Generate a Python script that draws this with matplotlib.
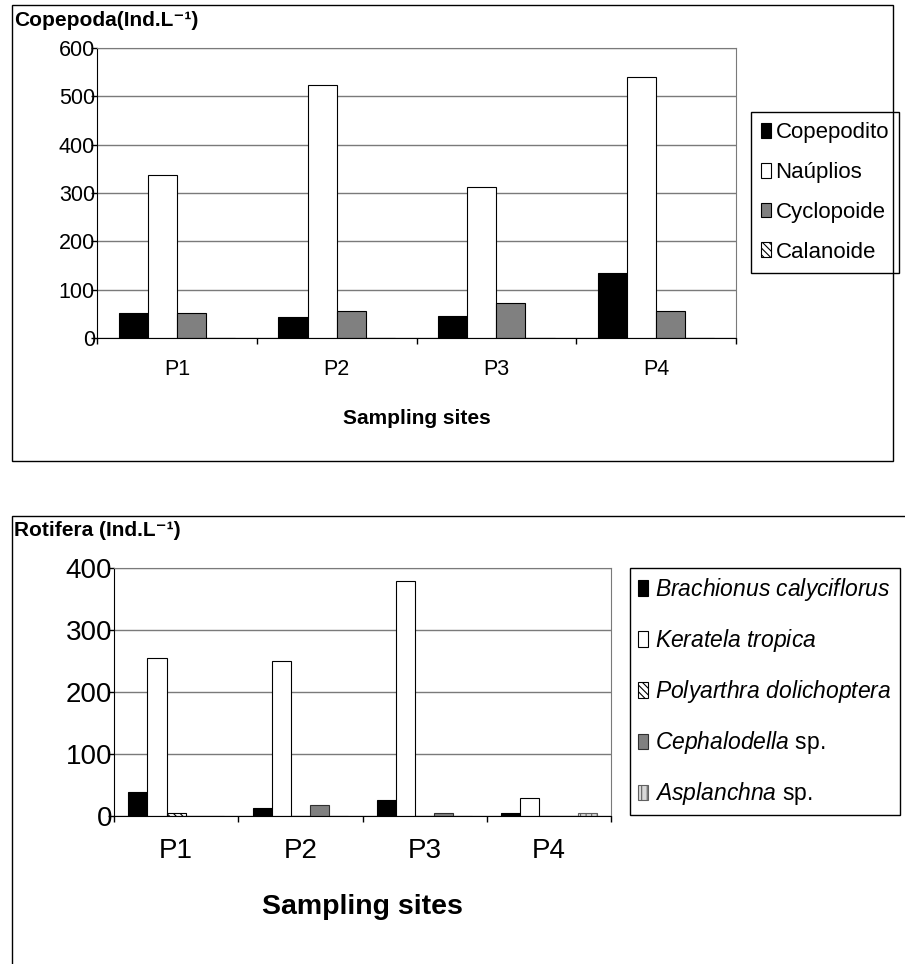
import matplotlib
matplotlib.use("Agg")
import matplotlib.pyplot as plt
from matplotlib.patches import Rectangle
import numpy as np

plt.rcParams['font.family'] = ['Liberation Sans', 'DejaVu Sans']
plt.rcParams['mathtext.fontset'] = 'custom'
plt.rcParams['mathtext.rm'] = 'Liberation Sans'
plt.rcParams['mathtext.it'] = 'Liberation Sans:italic'
plt.rcParams['hatch.linewidth'] = 0.8

sites = ['P1', 'P2', 'P3', 'P4']

# Copepoda (Ind.L-1)
copepodito = [52, 43, 47, 134]
nauplios = [337, 523, 312, 539]
cyclopoide = [52, 56, 73, 56]
calanoide = [0, 0, 0, 0]

# Rotifera (Ind.L-1)
brachionus = [38, 13, 25, 5]
keratela = [254, 250, 378, 29]
polyarthra = [5, 0, 0, 0]
cephalodella = [0, 17, 4, 0]
asplanchna = [0, 0, 0, 5]

W, H = 905, 964
fig = plt.figure(figsize=(W / 100, H / 100), dpi=100)


def px_axes(l, t, r, b):
    return fig.add_axes([l / W, 1 - b / H, (r - l) / W, (b - t) / H])


def style_axes(ax, ymax, step, tick_fs, lab_fs, tick_pad, lab_pad, ypad):
    x = np.arange(len(sites))
    ax.set_xlim(-0.5, len(sites) - 0.5)
    ax.set_ylim(0, ymax)
    ax.set_yticks(np.arange(0, ymax + 1, step))
    ax.yaxis.grid(True, color='#7a7a7a', lw=1)
    ax.set_axisbelow(True)
    ax.set_xticks(x)
    ax.set_xticklabels(sites, fontsize=tick_fs)
    ax.set_xticks(np.arange(-0.5, len(sites)), minor=True)
    ax.tick_params(axis='x', which='major', length=0, pad=tick_pad)
    ax.tick_params(axis='x', which='minor', length=4.5, width=1, direction='out')
    ax.tick_params(axis='y', length=4.5, width=1, direction='out', pad=ypad, labelsize=tick_fs)
    for s in ['top', 'right']:
        ax.spines[s].set_color('#7a7a7a')
    for s in ['left', 'bottom']:
        ax.spines[s].set_color('black')
    ax.set_xlabel('Sampling sites', fontsize=lab_fs, fontweight='bold', labelpad=lab_pad)


# ---------- top chart: Copepoda ----------
fig.add_artist(Rectangle((12 / W, 1 - 461 / H), 881 / W, 456 / H, transform=fig.transFigure,
                         fill=False, ec='black', lw=1))
ax1 = px_axes(97, 47.7, 736, 338.3)
x = np.arange(len(sites))
bw = 0.182
series1 = [
    ('Copepodito', copepodito, dict(color='black', edgecolor='black')),
    ('Naúplios', nauplios, dict(color='white', edgecolor='black')),
    ('Cyclopoide', cyclopoide, dict(color='#808080', edgecolor='black')),
    ('Calanoide', calanoide, dict(color='white', edgecolor='black', hatch='\\\\\\\\\\')),
]
for i, (name, vals, kw) in enumerate(series1):
    ax1.bar(x + (i - 1.5) * bw, vals, bw, label=name, lw=0.8, **kw)
style_axes(ax1, 600, 100, 15.5, 15, 15, 21, -3)
fig.text(14 / W, 1 - 20 / H, 'Copepoda(Ind.L⁻¹)', fontsize=15, fontweight='bold', va='center')
leg1 = ax1.legend(loc='upper left', bbox_to_anchor=(751 / W, 1 - 112 / H), bbox_transform=fig.transFigure,
                  fontsize=16, frameon=True, fancybox=False, edgecolor='black', framealpha=1,
                  borderaxespad=0, handlelength=0.45, handleheight=0.65, handletextpad=0.2,
                  labelspacing=0.85, borderpad=0.45)
leg1.get_frame().set_linewidth(1)

# ---------- bottom chart: Rotifera ----------
fig.add_artist(Rectangle((12 / W, 0 - 10 / H), 910 / W, (H - 516 + 10) / H, transform=fig.transFigure,
                         fill=False, ec='black', lw=1))
ax2 = px_axes(114, 567.7, 611, 815.7)
bw2 = 0.154
series2 = [
    (r'$\it{Brachionus\ calyciflorus}$', brachionus, dict(color='black', edgecolor='black')),
    (r'$\it{Keratela\ tropica}$', keratela, dict(color='white', edgecolor='black')),
    (r'$\it{Polyarthra\ dolichoptera}$', polyarthra, dict(color='white', edgecolor='black', hatch='\\\\\\\\\\')),
    (r'$\it{Cephalodella}$ sp.', cephalodella, dict(color='#808080', edgecolor='#303030')),
    (r'$\it{Asplanchna}$ sp.', asplanchna, dict(color='#d8d8d8', edgecolor='#606060', hatch='|||')),
]
for i, (name, vals, kw) in enumerate(series2):
    ax2.bar(x + (i - 2) * bw2, vals, bw2, label=name, lw=0.8, **kw)
style_axes(ax2, 400, 100, 20, 20.5, 16, 22, -3)
fig.text(14 / W, 1 - 531 / H, 'Rotifera (Ind.L⁻¹)', fontsize=15, fontweight='bold', va='center')
leg2 = ax2.legend(loc='upper left', bbox_to_anchor=(630 / W, 1 - 568 / H), bbox_transform=fig.transFigure,
                  fontsize=16.5, frameon=True, fancybox=False, edgecolor='black', framealpha=1,
                  borderaxespad=0, handlelength=0.45, handleheight=0.65, handletextpad=0.3,
                  labelspacing=1.05, borderpad=0.35)
leg2.get_frame().set_linewidth(1)

fig.savefig('out.png', dpi=100)
